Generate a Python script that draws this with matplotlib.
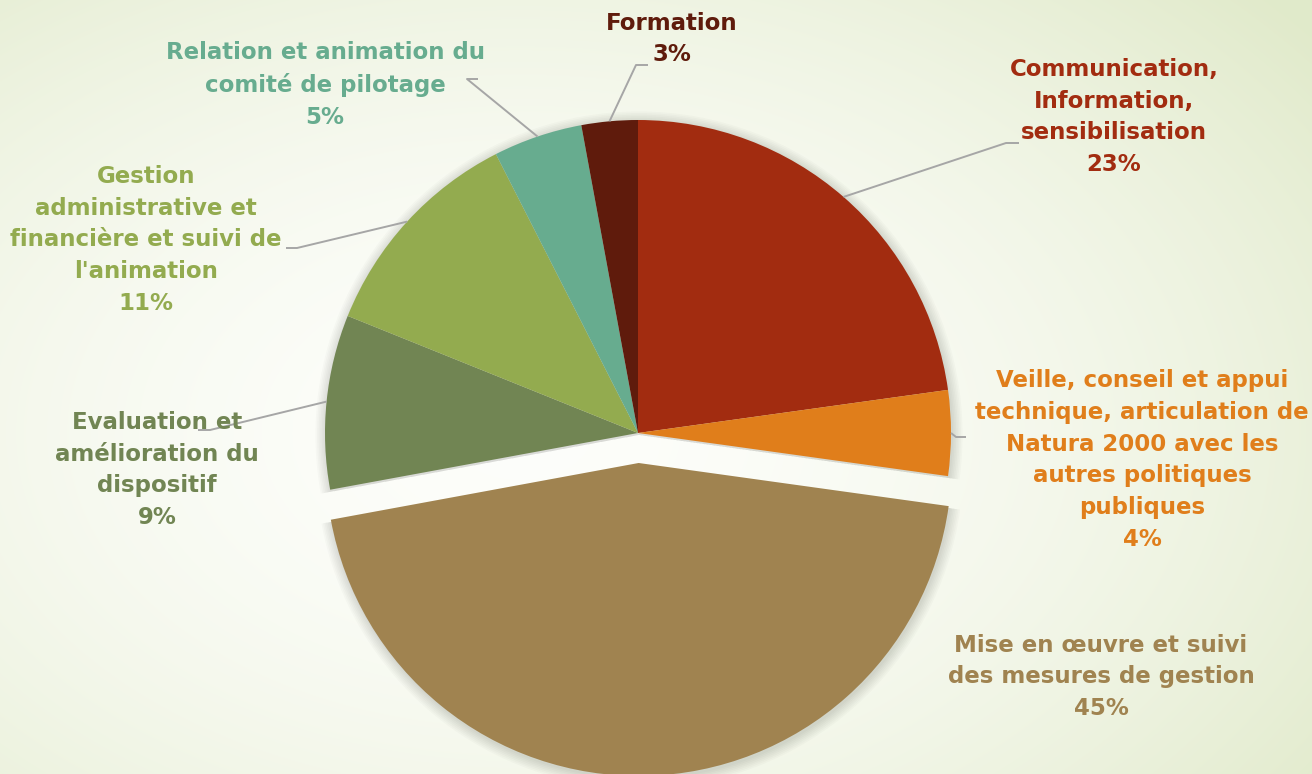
import numpy as np
import matplotlib
matplotlib.use("Agg")
import matplotlib.pyplot as plt

W, H = 1312, 774

# slices, clockwise from 12 o'clock
labels = [
    "Communication,\nInformation,\nsensibilisation",
    "Veille, conseil et appui\ntechnique, articulation de\nNatura 2000 avec les\nautres politiques\npubliques",
    "Mise en œuvre et suivi\ndes mesures de gestion",
    "Evaluation et\namélioration du\ndispositif",
    "Gestion\nadministrative et\nfinancière et suivi de\nl'animation",
    "Relation et animation du\ncomité de pilotage",
    "Formation",
]
shares = [22.8, 4.4, 44.9, 9.0, 11.4, 4.6, 2.9]
colors = ["#A22C10", "#E07E1B", "#A08350", "#718553", "#93AB4F", "#67AC8F", "#5F1B0C"]
explode = [0, 0, 30, 0, 0, 0, 0]  # pixels

# label layout (pixel coords, y down): text centre, elbow point, end of leader
label_pos = [(1114, 117), (1142, 460), (1101, 677), (157, 470), (146, 240), (325, 85), (672, 39)]
elbows = [(1006, 143), (956, 437), None, (210, 430), (297, 248), (467, 79), (636, 65)]
ends = [(1019, 143), (966, 437), None, (198, 430), (286, 248), (478, 79), (648, 65)]

cx, cy, R = 638, 433, 313

fig = plt.figure(figsize=(W / 100, H / 100), dpi=100)
ax = fig.add_axes([0, 0, 1, 1])

# soft radial background, white in the middle, pale green towards the edges
yy, xx = np.mgrid[0:H, 0:W]
d = np.sqrt(((xx - 520) / 1000.0) ** 2 + ((yy - 340) / 650.0) ** 2)
t = np.clip(d, 0, 1)[..., None] ** 1.8
c0 = np.array([0.992, 0.995, 0.982])
c1 = np.array([0.882, 0.918, 0.795])
bg = c0 * (1 - t) + c1 * t
ax.imshow(bg, extent=[0, W, H, 0], origin="upper", zorder=0, aspect="auto")

# faint shadow under the pie
for k in range(7):
    ax.pie(shares, explode=explode, center=(cx + 1, H - cy - 2), radius=R + 1 + k * 1.6,
           startangle=90, counterclock=False, colors=["#000000"] * len(shares),
           wedgeprops=dict(alpha=0.018, linewidth=0))

wedges, _ = ax.pie(shares, explode=explode, center=(cx, H - cy), radius=R,
                   startangle=90, counterclock=False, colors=colors,
                   wedgeprops=dict(linewidth=0))
ax.set_xlim(0, W)
ax.set_ylim(0, H)
ax.set_aspect("auto")
ax.axis("off")

for w, lab, v, col, pos, el, en in zip(wedges, labels, shares, colors, label_pos, elbows, ends):
    if el is not None:
        mid = np.deg2rad((w.theta1 + w.theta2) / 2)
        x0 = w.center[0] + w.r * np.cos(mid)
        y0 = w.center[1] + w.r * np.sin(mid)
        ax.plot([x0, el[0], en[0]], [y0, H - el[1], H - en[1]], color="#A6A6A6",
                lw=1.4, zorder=3, solid_capstyle="butt")
    ax.text(pos[0], H - pos[1], f"{lab}\n{v:.0f}%", ha="center", va="center",
            color=col, fontsize=16.5, fontweight="bold", family=["DejaVu Sans"],
            linespacing=1.48, zorder=4)

fig.savefig("out.png", dpi=100)
